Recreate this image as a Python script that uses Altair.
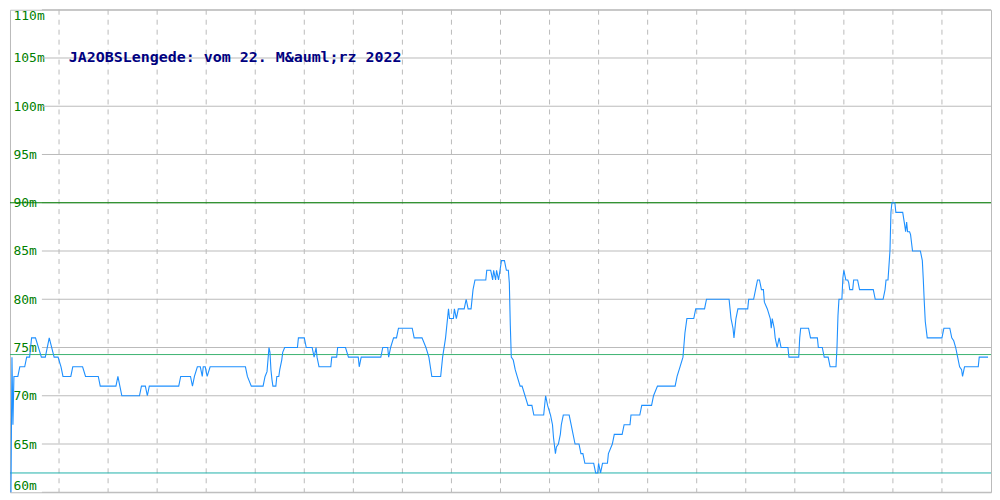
import altair as alt
import pandas as pd

# time index (0..1000 across the day) and altitude values in metres
T = [1, 2, 3, 4, 8, 10, 15, 17, 20, 22, 26, 32, 36, 40, 45, 49, 52, 54, 62, 64,
     74, 77, 90, 92, 108, 110, 112, 114, 132, 134, 138, 140, 142, 172, 174, 184, 186, 188, 191, 194,
     196, 197, 199, 201, 204, 240, 242, 246, 258, 260, 262, 264, 265, 266, 267, 268, 271, 272, 274, 275,
     277, 278, 280, 293, 294, 300, 302, 308, 310, 312, 313, 315, 327, 328, 333, 334, 342, 345, 355, 356,
     358, 378, 380, 385, 386, 388, 391, 394, 396, 410, 412, 420, 424, 427, 430, 439, 441, 444, 446, 447,
     448, 452, 453, 455, 457, 463, 465, 467, 470, 472, 474, 485, 486, 490, 492, 493, 495, 496, 498, 501,
     504, 506, 508, 509, 510, 511, 513, 515, 517, 520, 522, 525, 528, 532, 534, 544, 546, 548, 551, 553,
     554, 556, 557, 559, 561, 562, 564, 570, 572, 574, 576, 580, 582, 584, 586, 595, 597, 599, 600, 602,
     604, 609, 610, 614, 616, 624, 626, 632, 633, 642, 644, 654, 656, 660, 678, 680, 683, 686, 688, 690,
     697, 699, 708, 710, 733, 735, 737, 738, 740, 742, 752, 753, 758, 760, 762, 764, 766, 768, 769, 772,
     775, 776, 777, 779, 780, 782, 784, 786, 793, 794, 804, 805, 806, 814, 816, 823, 824, 828, 830, 834,
     836, 842, 843, 844, 845, 848, 849, 850, 852, 854, 855, 856, 859, 860, 864, 866, 880, 882, 890, 892,
     893, 895, 897, 898, 899, 902, 903, 910, 912, 913, 914, 915, 917, 918, 920, 928, 930, 931, 932, 933,
     935, 950, 952, 958, 960, 962, 964, 966, 968, 970, 971, 973, 987, 988, 997]
V = [60, 74, 67, 72, 72, 73, 73, 74, 74, 76, 76, 74, 74, 76, 74, 74, 73, 72, 72, 73,
     73, 72, 72, 71, 71, 72, 71, 70, 70, 71, 71, 70, 71, 71, 72, 72, 71, 72, 73, 73,
     72, 73, 73, 72, 73, 73, 72, 71, 71, 72, 72.5, 75, 74.5, 72.7, 71.7, 71, 71, 72, 72, 72.7,
     73.7, 74.5, 75, 75, 76, 76, 75, 75, 74, 75, 74, 73, 73, 74, 74, 75, 75, 74, 74, 73,
     74, 74, 75, 75, 74, 75, 76, 76, 77, 77, 76, 76, 75, 74, 72, 72, 74, 76, 78, 79,
     78, 78, 79, 78, 79, 79, 80, 79, 79, 81, 82, 82, 83, 83, 82, 83, 82, 83, 82, 84,
     84, 83, 83, 81.7, 77.3, 74, 73.7, 72.7, 72, 71, 71, 70, 69, 69, 68, 68, 70, 69, 68, 67,
     65.7, 64, 64.7, 65, 66, 67, 68, 68, 67, 66, 65, 65, 64, 64, 63, 63, 62, 62, 63, 62,
     63, 63, 64, 65, 66, 66, 67, 67, 68, 68, 69, 69, 70, 71, 71, 72, 73, 74, 76.5, 78,
     78, 79, 79, 80, 80, 78, 77, 76, 78, 79, 79, 80, 80, 81, 82, 82, 81, 81, 79.7, 79,
     78, 77, 78, 77, 76, 75, 76, 75, 75, 74, 74, 76, 77, 77, 76, 76, 75, 75, 74, 74,
     73, 73, 75, 78.3, 80, 80, 82.2, 83, 82, 82, 81.7, 81, 81, 82, 82, 81, 81, 80, 80, 81,
     82, 82, 85, 89, 90, 90, 89, 89, 87.7, 87, 88, 87, 87, 86.7, 85, 85, 84, 82, 79.7, 77.7,
     76, 76, 77, 77, 76, 75.7, 75, 74, 73, 72.7, 72, 73, 73, 74, 74]

Y_TICKS = [60, 65, 70, 75, 80, 85, 90, 95, 100, 105, 110]
X_GRID = [50, 100, 150, 200, 250, 300, 350, 400, 450, 500, 550, 600, 650, 700, 750, 800, 850, 900, 950]
LEVELS = [90, 74.27, 62]
LEVEL_COLORS = ["#008000", "#3cb371", "#20b2aa"]
TITLE = "JA2OBSLengede: vom 22. M&auml;rz 2022"

W, H = 984, 484

xs = alt.Scale(domain=[0, 1000], nice=False, zero=False)
ys = alt.Scale(domain=[60, 110], nice=False, zero=False)
yaxis = alt.Axis(values=Y_TICKS, labelExpr="datum.value + 'm'", grid=False, domain=False,
                 ticks=False, tickSize=0, labelAlign="left", labelPadding=-3,
                 labelColor="#008000", labelFont="DejaVu Sans Mono", labelFontSize=13,
                 labelFlush=True, title=None)

df = pd.DataFrame({"t": T, "v": V})
grid_df = pd.DataFrame({"v": Y_TICKS})
vgrid_df = pd.DataFrame({"t": X_GRID})
lvl_df = pd.DataFrame({"v": LEVELS, "c": LEVEL_COLORS})
title_df = pd.DataFrame({"s": [TITLE]})

vgrid = alt.Chart(vgrid_df).mark_rule(color="#bbbbbb", strokeWidth=1, strokeDash=[5, 5]).encode(
    x=alt.X("t:Q", scale=xs, axis=None)
)
hgrid = alt.Chart(grid_df).mark_rule(color="#bbbbbb", strokeWidth=1).encode(
    y=alt.Y("v:Q", scale=ys, axis=yaxis),
    x=alt.value(32), x2=alt.value(W)
)
levels = alt.Chart(lvl_df).mark_rule(strokeWidth=1).encode(
    y=alt.Y("v:Q", scale=ys, axis=yaxis),
    color=alt.Color("c:N", scale=None, legend=None)
)
line = alt.Chart(df).mark_line(color="#1e90ff", strokeWidth=1.1).encode(
    x=alt.X("t:Q", scale=xs, axis=None),
    y=alt.Y("v:Q", scale=ys, axis=yaxis)
)
title = alt.Chart(title_df).mark_text(align="left", baseline="middle", font="DejaVu Sans Mono",
                                      fontSize=15, fontWeight="bold", color="#000080").encode(
    x=alt.value(59), y=alt.value(47), text="s:N"
)

chart = alt.layer(vgrid, hgrid, levels, line, title).properties(
    width=W, height=H, padding=0, background="white"
).configure_view(stroke="#bbbbbb", strokeWidth=1)

chart.save("out.html", embed_options={"renderer": "svg", "actions": False})
